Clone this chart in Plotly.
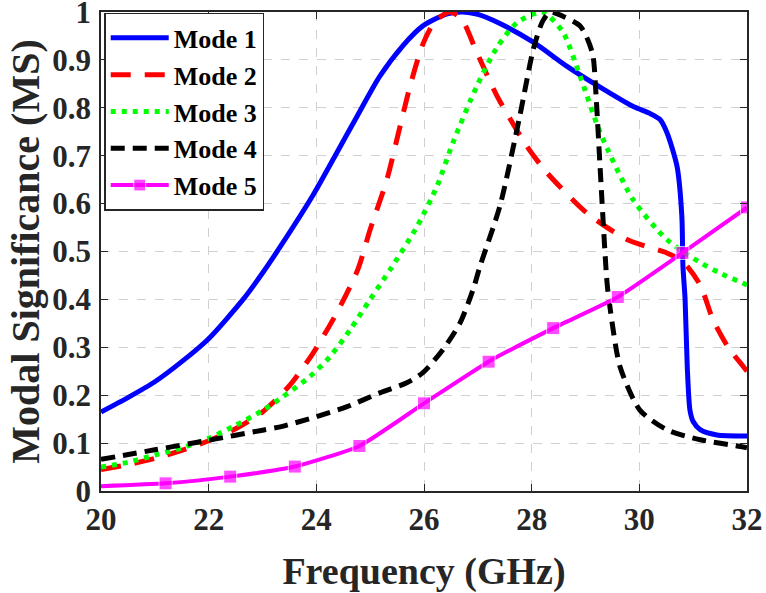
import plotly.graph_objects as go

# Mode 1 (blue solid)
m1_x = [20, 20.5, 21, 21.5, 22, 22.64, 23, 23.33, 23.94, 24.35, 24.76, 25.18, 25.61, 25.98, 26.43, 26.72, 27.0, 27.41, 28.03, 28.65, 29.27, 29.88, 30.2, 30.38, 30.51, 30.7, 30.79, 30.81, 30.85, 30.89, 30.94, 31.0, 31.13, 31.44, 32]
m1_y = [0.165, 0.195, 0.228, 0.27, 0.318, 0.40, 0.455, 0.51, 0.618, 0.70, 0.783, 0.866, 0.93, 0.971, 0.996, 1.0, 0.995, 0.976, 0.937, 0.887, 0.843, 0.803, 0.788, 0.776, 0.749, 0.678, 0.573, 0.47, 0.40, 0.26, 0.169, 0.145, 0.128, 0.117, 0.115]

# Mode 2 (red dashed)
m2_x = [20, 20.5, 21, 21.5, 22, 22.5, 23, 23.5, 23.94, 24.38, 24.77, 25.0, 25.31, 25.52, 25.74, 25.98, 26.2, 26.48, 26.7, 26.98, 27.36, 27.91, 28.28, 29.03, 29.77, 30.51, 30.8, 31.13, 31.37, 31.65, 31.93, 32]
m2_y = [0.045, 0.055, 0.068, 0.085, 0.105, 0.13, 0.165, 0.22, 0.288, 0.372, 0.462, 0.546, 0.65, 0.745, 0.845, 0.933, 0.98, 1.0, 0.985, 0.916, 0.824, 0.72, 0.665, 0.58, 0.525, 0.497, 0.48, 0.43, 0.357, 0.30, 0.26, 0.25]

# Mode 3 (green dotted)
m3_x = [20, 20.5, 21, 21.5, 22, 22.5, 23, 23.38, 23.88, 24.25, 24.63, 25.0, 25.37, 25.87, 26.24, 26.54, 26.98, 27.35, 27.73, 28.2, 28.58, 28.9, 29.27, 29.88, 30.51, 31.13, 31.5, 32]
m3_y = [0.05, 0.06, 0.075, 0.09, 0.11, 0.137, 0.168, 0.197, 0.239, 0.28, 0.337, 0.40, 0.462, 0.552, 0.636, 0.728, 0.845, 0.925, 0.978, 1.0, 0.958, 0.866, 0.749, 0.609, 0.525, 0.477, 0.455, 0.43]

# Mode 4 (black dashed)
m4_x = [20, 21, 22, 23, 23.33, 23.94, 24.57, 25.18, 25.68, 25.98, 26.35, 26.67, 26.91, 27.04, 27.41, 27.78, 28.03, 28.2, 28.34, 28.6, 28.9, 29.05, 29.14, 29.2, 29.27, 29.4, 29.46, 29.64, 30.01, 30.51, 31.13, 31.93, 32]
m4_y = [0.066, 0.086, 0.106, 0.127, 0.134, 0.153, 0.176, 0.205, 0.226, 0.247, 0.295, 0.351, 0.42, 0.469, 0.595, 0.783, 0.922, 0.98, 1.0, 0.99, 0.971, 0.94, 0.908, 0.818, 0.678, 0.435, 0.379, 0.26, 0.169, 0.128, 0.107, 0.092, 0.09]

# Mode 5 (magenta with square markers)
m5_x = [20, 21.2, 22.4, 23.6, 24.8, 26.0, 27.2, 28.4, 29.6, 30.8, 32]
m5_y = [0.01, 0.016, 0.03, 0.051, 0.094, 0.183, 0.27, 0.34, 0.405, 0.497, 0.592]

x_ticks = [20, 22, 24, 26, 28, 30, 32]
y_ticks = [0, 0.1, 0.2, 0.3, 0.4, 0.5, 0.6, 0.7, 0.8, 0.9, 1]
y_tick_text = ["0", "0.1", "0.2", "0.3", "0.4", "0.5", "0.6", "0.7", "0.8", "0.9", "1"]

FONT = "Liberation Serif, Times New Roman, serif"
SM = 0.7

fig = go.Figure()
fig.add_trace(go.Scatter(x=m1_x, y=m1_y, mode="lines", name="Mode 1",
                         line=dict(color="#0000FF", width=5, shape="spline", smoothing=SM)))
fig.add_trace(go.Scatter(x=m2_x, y=m2_y, mode="lines", name="Mode 2",
                         line=dict(color="#FF0000", width=5, dash="20px,14px", shape="spline", smoothing=SM)))
fig.add_trace(go.Scatter(x=m3_x, y=m3_y, mode="lines", name="Mode 3",
                         line=dict(color="#00FF00", width=5, dash="5px,6px", shape="spline", smoothing=SM)))
fig.add_trace(go.Scatter(x=m4_x, y=m4_y, mode="lines", name="Mode 4",
                         line=dict(color="#000000", width=5, dash="14px,8px", shape="spline", smoothing=SM)))
fig.add_trace(go.Scatter(x=m5_x, y=m5_y, mode="lines+markers", name="Mode 5",
                         line=dict(color="#FF00FF", width=4, shape="spline", smoothing=0.5),
                         marker=dict(symbol="square", size=[0] + [13] * (len(m5_x) - 1), color="#FF00FF")))

axis_common = dict(
    showline=True, linecolor="#262626", linewidth=1.5, mirror="ticks",
    ticks="inside", ticklen=7, tickcolor="#262626", tickwidth=1.2,
    showgrid=True, gridcolor="#d0d0d0", gridwidth=1, griddash="dash",
    zeroline=False, ticklabeloverflow="allow", automargin=False,
    tickfont=dict(family=FONT, size=31, color="#262626", weight="bold"),
)

fig.update_xaxes(range=[20, 32], tickvals=x_ticks, **axis_common,
                 title=dict(text="Frequency (GHz)", font=dict(family=FONT, size=38, color="#262626", weight="bold"), standoff=21))
fig.update_yaxes(range=[0, 1], tickvals=y_ticks, ticktext=y_tick_text, **axis_common,
                 ticklabelstandoff=2,
                 title=dict(text="Modal Significance (MS)", font=dict(family=FONT, size=40, color="#262626", weight="bold"), standoff=0))

fig.update_layout(
    width=766, height=593,
    margin=dict(l=101, r=19, t=12, b=102),
    paper_bgcolor="white", plot_bgcolor="white",
    legend=dict(x=0.005, y=0.998, xanchor="left", yanchor="top",
                bgcolor="white", bordercolor="#262626", borderwidth=1.5,
                font=dict(family=FONT, size=26, color="#000000", weight="bold"),
                tracegroupgap=0, itemwidth=58),
    showlegend=True,
)

# remove the default page margin so the figure fills the window exactly
fig.write_html("out.html", config={"displayModeBar": False},
               post_script="document.body.style.margin='0';")
